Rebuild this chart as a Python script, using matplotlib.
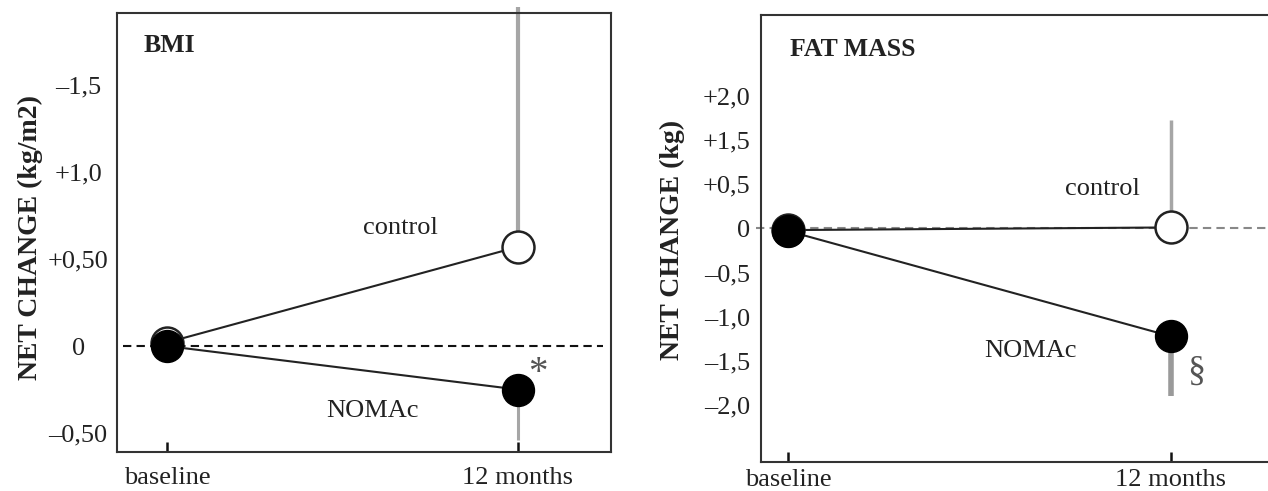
import matplotlib
matplotlib.use("Agg")
import matplotlib.pyplot as plt
import numpy as np

plt.rcParams['font.family'] = ['Liberation Serif', 'DejaVu Serif']

# ---- data ----
timepoints = ['baseline', '12 months']
bmi_control = [0.02, 0.57]
bmi_nomac = [0.0, -0.25]
bmi_control_err_up = [0.0, 1.38]
bmi_nomac_err_down = [0.0, 0.29]
bmi_ticks = [1.5, 1.0, 0.5, 0.0, -0.5]
bmi_ticklabels = ['\u20131,5', '+1,0', '+0,50', '0', '\u20130,50']

fat_control = [-0.02, 0.01]
fat_nomac = [-0.03, -1.22]
fat_control_err_up = [0.0, 1.21]
fat_nomac_err_down = [0.0, 0.68]
fat_ticks = [1.5, 1.0, 0.5, 0.0, -0.5, -1.0, -1.5, -2.0]
fat_ticklabels = ['+2,0', '+1,5', '+0,5', '0', '\u20130,5', '\u20131,0', '\u20131,5', '\u20132,0']

W, H = 1268, 491
fig = plt.figure(figsize=(W / 100, H / 100), dpi=100)
ax1 = fig.add_axes([117 / W, 1 - 452 / H, 494 / W, 439 / H])
ax2 = fig.add_axes([761 / W, 1 - 462 / H, 511 / W, 447 / H])

x = np.arange(len(timepoints))
dark = '#222222'
fs = 19


def style(ax, ticks, labels, xpad, ypad, ha):
    for s in ax.spines.values():
        s.set_linewidth(1.5)
        s.set_color('#333333')
    ax.set_xticks(x)
    ax.set_xticklabels(timepoints, fontsize=fs, color=dark)
    ax.set_yticks(ticks)
    ax.set_yticklabels(labels, fontsize=fs, color=dark)
    ax.tick_params(axis='x', direction='in', length=7, width=1.8, color='#111', pad=xpad)
    ax.tick_params(axis='y', length=0, pad=ypad)
    for t in ax.get_yticklabels():
        t.set_horizontalalignment(ha)


# ---- BMI panel ----
ax1.set_xlim(-0.142, 1.265)
ax1.set_ylim(-0.609, 1.914)
ax1.axhline(0, xmin=0.012, xmax=0.984, color='#111', lw=1.5, ls=(0, (4, 2.5)), zorder=1)
c = np.array(bmi_control)
n = np.array(bmi_nomac)
ax1.vlines(x[1:], c[1:], c[1:] + np.array(bmi_control_err_up)[1:], color='#a6a6a6', lw=3,
           zorder=2, clip_on=False)
ax1.vlines(x[1:], n[1:] - np.array(bmi_nomac_err_down)[1:], n[1:], color='#a6a6a6', lw=2.2, zorder=2)
ax1.plot(x, c, color=dark, lw=1.5, zorder=3)
ax1.plot(x, n, color=dark, lw=1.5, zorder=3)
ax1.plot(x, c, 'o', ms=23, mfc='white', mec=dark, mew=1.8, zorder=4)
ax1.plot(x, n, 'o', ms=23, mfc='black', mec='black', mew=1.0, zorder=5)
style(ax1, bmi_ticks, bmi_ticklabels, 11, 28, 'center')
ax1.text(0.053, 0.925, 'BMI', transform=ax1.transAxes, fontsize=18.5, fontweight='bold',
         color=dark, ha='left', va='center')
ax1.text(0.664, 0.678, 'control', fontsize=fs, color=dark, ha='center', va='center')
ax1.text(0.587, -0.374, 'NOMAc', fontsize=fs, color=dark, ha='center', va='center')
ax1.text(1.057, -0.16, '*', fontsize=28, color='#555555', ha='center', va='center')
fig.text(30 / W, 1 - 237 / H, 'NET CHANGE (kg/m2)', rotation=90, fontsize=20,
         fontweight='bold', color=dark, ha='center', va='center')

# ---- FAT MASS panel ----
ax2.set_xlim(-0.0705, 1.264)
ax2.set_ylim(-2.64, 2.41)
ax2.axhline(0, xmin=-0.01, xmax=1.0, color='#888888', lw=1.5, ls=(0, (4, 2.5)), zorder=1,
            clip_on=False)
c = np.array(fat_control)
n = np.array(fat_nomac)
ax2.vlines(x[1:], c[1:], c[1:] + np.array(fat_control_err_up)[1:], color='#a6a6a6', lw=2.5, zorder=2)
ax2.vlines(x[1:], n[1:] - np.array(fat_nomac_err_down)[1:], n[1:], color='#9a9a9a', lw=4, zorder=2)
ax2.plot(x, c, color=dark, lw=1.5, zorder=3)
ax2.plot(x, n, color=dark, lw=1.5, zorder=3)
ax2.plot(x, c, 'o', ms=23, mfc='white', mec=dark, mew=1.8, zorder=4)
ax2.plot(x, n, 'o', ms=23, mfc='black', mec='black', mew=1.0, zorder=5)
style(ax2, fat_ticks, fat_ticklabels, 5, 8, 'right')
ax2.text(0.057, 0.922, 'FAT MASS', transform=ax2.transAxes, fontsize=18.5, fontweight='bold',
         color=dark, ha='left', va='center')
ax2.text(0.822, 0.446, 'control', fontsize=fs, color=dark, ha='center', va='center')
ax2.text(0.632, -1.383, 'NOMAc', fontsize=fs, color=dark, ha='center', va='center')
ax2.text(1.065, -1.62, '\u00a7', fontsize=26, color='#555555', ha='center', va='center')
fig.text(672 / W, 1 - 240 / H, 'NET CHANGE (kg)', rotation=90, fontsize=20,
         fontweight='bold', color=dark, ha='center', va='center')

fig.savefig('out.png', dpi=100)
